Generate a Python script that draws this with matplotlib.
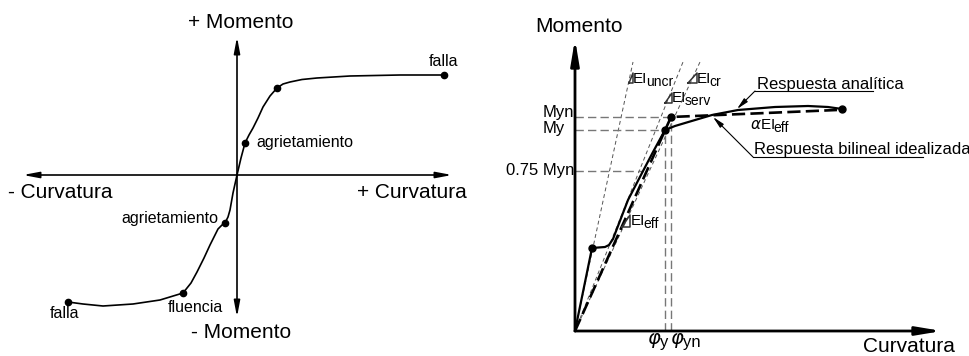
import matplotlib
matplotlib.use("Agg")
import matplotlib.pyplot as plt
import numpy as np

plt.rcParams["font.family"] = ["Liberation Sans", "DejaVu Sans"]

# ---- left panel: symmetric moment-curvature sketch (px units, origin at centre)
left_x = [-169, -154, -134, -104, -77, -54, -46, -40, -33, -27, -22, -19, -15, -12,
          -9, -7, -4, 0, 4, 8, 12, 16, 21, 26, 33, 40, 46, 53, 65, 80, 113, 163, 207]
left_y = [-127, -129, -131, -129, -125, -118, -108, -97, -83, -70, -60, -54, -50, -48,
          -42, -35, -18, 0, 17, 32, 40, 47, 57, 68, 79, 87, 91, 93, 95.5, 97, 99, 100, 100]
left_marks = [0, 5, 13, 19, 25, 32]   # falla, fluencia, agrietamiento x2, yield, falla

# ---- right panel: analytic response + bilinear idealisation (px units, origin at corner)
resp_x = [0, 17, 30, 34, 38, 53, 67, 78, 90, 100, 110, 137, 163, 200, 233, 253, 267]
resp_y = [0, 83, 84, 86, 92, 131, 158, 179, 201, 205, 208, 216, 221, 224, 225, 224, 222]
resp_marks = [1, 8, 16]
bil_x = [0, 96, 262]
bil_y = [0, 214, 221]
Myn = 214
My = 201
phi_y = 90
phi_yn = 96
ei_uncr = (58, 269)
ei_cr = (108, 269)
ei_serv = (125, 269)

fig = plt.figure(figsize=(9.7, 3.56), dpi=100)
ax1 = fig.add_axes([0, 0, 0.5, 1])
ax2 = fig.add_axes([0.5, 0, 0.5, 1])
ax1.set_xlim(-237, 248)
ax1.set_ylim(-181, 175)
ax2.set_xlim(-90, 395)
ax2.set_ylim(-25, 331)
for a in (ax1, ax2):
    a.axis("off")


def arrow(ax, start, tip, style, scale, lw, color="k"):
    ax.annotate("", xy=tip, xytext=start,
                arrowprops=dict(arrowstyle=style, mutation_scale=scale, lw=lw,
                                color=color, shrinkA=0, shrinkB=0))


def sub_label(ax, x, y, main, sub, size=11, subsize=10, drop=2):
    t = ax.text(x, y, main, fontsize=size, ha="left", va="center")
    ax.annotate(sub, xy=(1, 0.5), xycoords=t, xytext=(-1.2, -drop),
                textcoords="offset points", fontsize=subsize, ha="left", va="center")


def slope_tri(ax, x0, x1, y0, y1):
    ax.plot([x0, x1, x1, x0], [y0, y0, y1, y0], color="#333333", lw=1.1)


# ---------------- left panel
arrow(ax1, (-214, 0), (215, 0), "<|-|>,head_length=0.95,head_width=0.18", 10, 1.2)
arrow(ax1, (0, -142), (0, 138), "<|-|>,head_length=0.95,head_width=0.18", 10, 1.2)
ax1.plot(left_x, left_y, color="k", lw=1.2)
ax1.plot([left_x[i] for i in left_marks], [left_y[i] for i in left_marks],
         "o", color="k", ms=4.5)

ax1.text(4, 153, "+ Momento", fontsize=15, ha="center", va="center")
ax1.text(4, -157, "- Momento", fontsize=15, ha="center", va="center")
ax1.text(-229, -17, "- Curvatura", fontsize=15, ha="left", va="center")
ax1.text(230, -17, "+ Curvatura", fontsize=15, ha="right", va="center")
ax1.text(207, 113, "falla", fontsize=11.5, ha="center", va="center")
ax1.text(-172, -138, "falla", fontsize=11.5, ha="center", va="center")
ax1.text(-42, -133, "fluencia", fontsize=11.5, ha="center", va="center")
ax1.text(-19, -43, "agrietamiento", fontsize=11.5, ha="right", va="center")
ax1.text(19, 32, "agrietamiento", fontsize=11.5, ha="left", va="center")

# ---------------- right panel
# EI stiffness guide lines
for top in (ei_uncr, ei_cr, ei_serv):
    ax2.plot([0, top[0]], [0, top[1]], color="#555555", lw=0.7, dashes=(4, 3))

# reference dashed lines
ref = dict(color="#777777", lw=1.0, dashes=(6, 3))
rise = slice(3, 9)
x75 = np.interp(0.75 * Myn, resp_y[rise], resp_x[rise])
ax2.plot([0, phi_yn], [Myn, Myn], **ref)
ax2.plot([0, phi_y], [My, My], **ref)
ax2.plot([0, x75], [0.75 * Myn, 0.75 * Myn], **ref)
ax2.plot([phi_y, phi_y], [0, My], **ref)
ax2.plot([phi_yn, phi_yn], [0, Myn], **ref)

ax2.plot(resp_x, resp_y, color="k", lw=1.6)
ax2.plot(bil_x, bil_y, color="k", lw=1.9, dashes=(5, 2))
ax2.plot([resp_x[i] for i in resp_marks], [resp_y[i] for i in resp_marks],
         "o", color="k", ms=5)
ax2.plot([phi_yn], [Myn], "o", color="k", ms=5)

arrow(ax2, (0, 0), (0, 292), "-|>,head_length=1.5,head_width=0.25", 10, 2.0)
arrow(ax2, (0, 0), (367, 0), "-|>,head_length=1.5,head_width=0.25", 10, 2.0)

ax2.text(4, 304, "Momento", fontsize=15, ha="center", va="center")
ax2.text(380, -16, "Curvatura", fontsize=15, ha="right", va="center")
ax2.text(-32, 219, "Myn", fontsize=12, ha="left", va="center")
ax2.text(-32, 203, "My", fontsize=12, ha="left", va="center")
ax2.text(-1, 0.75 * Myn, "0.75 Myn", fontsize=12, ha="right", va="center")
sub_label(ax2, 72, -9, r"$\varphi$", "y", size=14, subsize=12, drop=2)
sub_label(ax2, 95, -9, r"$\varphi$", "yn", size=14, subsize=12, drop=2)

slope_tri(ax2, 54, 58, 248, 258)
sub_label(ax2, 58, 252, "EI", "uncr")
slope_tri(ax2, 113, 122, 248, 258)
sub_label(ax2, 122, 252, "EI", "cr")
slope_tri(ax2, 90, 97, 228, 238)
sub_label(ax2, 97, 233, "EI", "serv")
slope_tri(ax2, 47, 55, 104, 116)
sub_label(ax2, 56, 110, "EI", "eff")
sub_label(ax2, 175, 206, r"$\alpha$EI", "eff")

# leaders
ax2.text(182, 242, "Respuesta analítica", fontsize=12, ha="left", va="baseline")
ax2.plot([180, 298], [240, 240], color="k", lw=0.8)
arrow(ax2, (180, 240), (162, 222), "-|>,head_length=0.7,head_width=0.15", 10, 0.8)
ax2.text(179, 177, "Respuesta bilineal idealizada", fontsize=12, ha="left", va="baseline")
ax2.plot([178, 348], [174, 174], color="k", lw=0.8)
arrow(ax2, (178, 174), (138, 214), "-|>,head_length=0.7,head_width=0.15", 10, 0.8)

fig.savefig("out.png", dpi=100)
